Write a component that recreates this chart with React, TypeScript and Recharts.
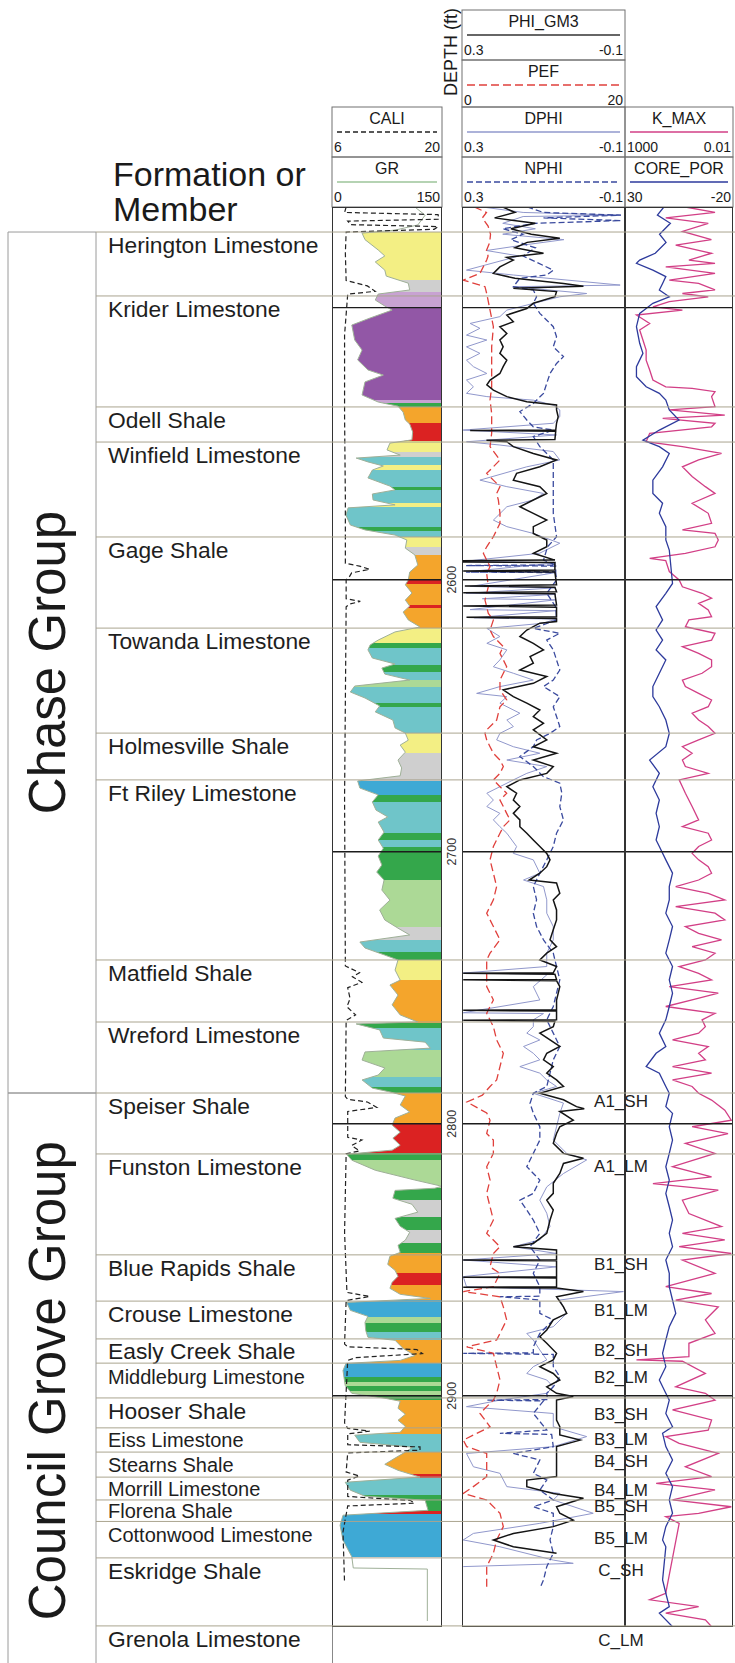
import React from 'react'
import { ComposedChart, Line, Area, XAxis, YAxis, ReferenceLine, ReferenceArea } from 'recharts'

const FONT = '"Liberation Sans", Arial, Helvetica, sans-serif'

const TRACK_TOP = 207
const TRACK_H = 1420
const PAGE_H = 1663
const DEPTH_TOP = 2463
const DEPTH_BOTTOM = 2985
const PX_PER_FT = TRACK_H / (DEPTH_BOTTOM - DEPTH_TOP)
const PAGE_BOTTOM_DEPTH = DEPTH_TOP + (PAGE_H - TRACK_TOP) / PX_PER_FT
const NO_MARGIN = { top: 0, right: 0, bottom: 0, left: 0 }

const DEPTH_GRID = [2500, 2600, 2700, 2800, 2900]
const DEPTH_LABELS = [2600, 2700, 2800, 2900]

const GROUPS = [
  { name: 'Chase Group', top: 2472.2 },
  { name: 'Council Grove Group', top: 2788.7 },
]

const FORMATIONS = [
  { name: 'Herington Limestone', top: 2472.2 },
  { name: 'Krider Limestone', top: 2495.7 },
  { name: 'Odell Shale', top: 2536.5 },
  { name: 'Winfield Limestone', top: 2549.4 },
  { name: 'Gage Shale', top: 2584.3 },
  { name: 'Towanda Limestone', top: 2617.8 },
  { name: 'Holmesville Shale', top: 2656.4 },
  { name: 'Ft Riley Limestone', top: 2673.6 },
  { name: 'Matfield Shale', top: 2739.8 },
  { name: 'Wreford Limestone', top: 2762.6 },
  { name: 'Speiser Shale', top: 2788.7 },
  { name: 'Funston Limestone', top: 2811.1 },
  { name: 'Blue Rapids Shale', top: 2848.2 },
  { name: 'Crouse Limestone', top: 2865.2 },
  { name: 'Easly Creek Shale', top: 2879.1 },
  { name: 'Middleburg Limestone', top: 2888.0 },
  { name: 'Hooser Shale', top: 2900.8 },
  { name: 'Eiss Limestone', top: 2911.8 },
  { name: 'Stearns Shale', top: 2920.7 },
  { name: 'Morrill Limestone', top: 2929.9 },
  { name: 'Florena Shale', top: 2938.3 },
  { name: 'Cottonwood Limestone', top: 2946.2 },
  { name: 'Eskridge Shale', top: 2959.6 },
  { name: 'Grenola Limestone', top: 2984.6 },
]
const SMALL_LABELS = ['Middleburg Limestone', 'Eiss Limestone', 'Stearns Shale', 'Morrill Limestone', 'Florena Shale', 'Cottonwood Limestone']

const MARKERS = [
  { name: 'A1_SH', depth: 2792 },
  { name: 'A1_LM', depth: 2815.9 },
  { name: 'B1_SH', depth: 2851.6 },
  { name: 'B1_LM', depth: 2868.8 },
  { name: 'B2_SH', depth: 2883.2 },
  { name: 'B2_LM', depth: 2893.1 },
  { name: 'B3_SH', depth: 2906.7 },
  { name: 'B3_LM', depth: 2916.2 },
  { name: 'B4_SH', depth: 2924.2 },
  { name: 'B4_LM', depth: 2934.8 },
  { name: 'B5_SH', depth: 2940.7 },
  { name: 'B5_LM', depth: 2952.5 },
  { name: 'C_SH', depth: 2964.4 },
  { name: 'C_LM', depth: 2990 },
]

type Pt = [number, number | null]

// gamma ray, API (0-150)
const GR: Pt[] = [
  [2463, 113], [2466, 127], [2469.6, 117], [2471.5, 86], [2472.6, 41], [2475, 45], [2478.8, 63], [2481, 72], [2483.2, 59],
  [2486.2, 72], [2488.4, 74], [2491, 104], [2493.5, 106], [2495, 63], [2497.2, 59], [2499.4, 72], [2500.9, 82], [2503.8, 52],
  [2506.4, 27], [2511.9, 31], [2515.6, 41], [2519.2, 35], [2522.9, 49], [2524.8, 70], [2527.3, 45], [2532.1, 41], [2534.7, 63],
  [2536.2, 90], [2538.4, 97], [2541.3, 100], [2542.8, 106], [2545.7, 110], [2548.6, 109], [2549.8, 79], [2552.3, 75], [2554.2, 93],
  [2555.3, 33], [2556.7, 49], [2558.2, 70], [2559.7, 55], [2562.6, 49], [2565.6, 79], [2567, 86], [2568.5, 55], [2570.7, 56],
  [2572.5, 86], [2573.6, 22], [2576.2, 19], [2579.9, 25], [2581.7, 45], [2583.6, 86], [2585.4, 102], [2588.4, 100], [2590.9, 113],
  [2594.6, 117], [2597.2, 106], [2600.1, 104], [2601.9, 100], [2604.9, 109], [2607.5, 100], [2609.7, 106], [2611.9, 97], [2614.8, 104],
  [2617.4, 120], [2619.2, 86], [2622.2, 63], [2624, 52], [2625.8, 49], [2628.8, 55], [2631, 86], [2632.5, 68], [2634.7, 72],
  [2636.9, 106], [2639.1, 31], [2641.3, 25], [2643.5, 45], [2646.4, 65], [2648.6, 59], [2651.6, 83], [2654.5, 86], [2656.4, 100],
  [2659, 104], [2660.8, 93], [2663.4, 100], [2666.3, 90], [2669.2, 95], [2672.1, 93], [2674, 35], [2676.6, 38], [2679.1, 63],
  [2681.7, 55], [2684.7, 60], [2687.2, 76], [2689.1, 63], [2692.8, 71], [2695.7, 63], [2698.7, 70], [2701.6, 63], [2704.9, 68],
  [2707.5, 61], [2710.4, 71], [2714.1, 68], [2717.8, 79], [2721.4, 65], [2725.1, 72], [2728.1, 90], [2730.6, 106], [2733.2, 38],
  [2735.4, 45], [2738, 72], [2739.8, 90], [2743.5, 86], [2747.2, 93], [2749, 79], [2752.7, 90], [2756.3, 82], [2760, 93],
  [2762.6, 117], [2763.3, 33], [2765.5, 65], [2768.5, 70], [2770, 127], [2772.2, 134], [2773.6, 45], [2776.6, 41], [2779.5, 72],
  [2782.1, 63], [2783.9, 41], [2786.9, 55], [2788.3, 79], [2789.8, 100], [2793.1, 93], [2795.7, 106], [2797.9, 86], [2800.5, 82],
  [2803.1, 93], [2805.3, 83], [2807.9, 93], [2809.7, 82], [2811.2, 20], [2813.4, 27], [2817.1, 59], [2820.7, 113], [2823, 150],
  [2823.7, 140], [2824.5, 86], [2827.4, 83], [2829.6, 109], [2832.5, 117], [2834.8, 86], [2837.7, 93], [2839.9, 106], [2842.8, 100],
  [2844.7, 90], [2847.3, 93], [2848.7, 79], [2851.7, 76], [2853.9, 86], [2856.1, 90], [2858.3, 82], [2860.5, 79], [2862.7, 93],
  [2864.2, 134], [2865.7, 20], [2868.6, 25], [2870.8, 49], [2873, 45], [2876, 46], [2878.5, 49], [2879.6, 86], [2882.6, 97],
  [2885.2, 113], [2887, 93], [2888.1, 19], [2890.7, 15], [2896.2, 18], [2899.1, 27], [2900.9, 72], [2902, 93], [2904.6, 90],
  [2906.8, 100], [2909, 90], [2911.2, 100], [2913.4, 93], [2914.5, 31], [2917.1, 38], [2918.9, 110], [2920.7, 100], [2922.9, 86],
  [2925.2, 72], [2927.4, 90], [2929.9, 120], [2931.8, 18], [2934.7, 25], [2936.9, 45], [2938.4, 127], [2942.1, 131], [2943.9, 15],
  [2947.6, 11], [2953.1, 15], [2959.2, 27], [2963.3, 29], [2963.7, 130], [2982.8, 130],
]

// lithofacies intervals shading the GR track: [top depth, facies code]
const FACIES: [number, string][] = [
  [2463, '-'], [2472.2, 'Y'], [2489.8, 'GY'], [2494.2, 'LV'], [2500.1, 'PU'], [2533.9, 'LV'], [2535, 'DG'], [2536.5, 'OR'],
  [2542.4, 'RD'], [2549, 'Y'], [2553.1, 'GY'], [2554.9, 'TL'], [2557.8, 'Y'], [2559.7, 'TL'], [2565.9, 'DG'], [2567, 'TL'],
  [2571.8, 'Y'], [2573.3, 'TL'], [2580.6, 'DG'], [2582.1, 'TL'], [2584.3, 'Y'], [2588, 'GY'], [2590.9, 'OR'], [2599.7, 'RD'],
  [2601.6, 'OR'], [2609.3, 'RD'], [2610.4, 'OR'], [2617.8, 'Y'], [2623.3, 'DG'], [2625.1, 'TL'], [2631.4, 'DG'], [2633.9, 'TL'],
  [2636.9, 'LG'], [2639.4, 'TL'], [2645.3, 'DG'], [2646.8, 'TL'], [2656.4, 'Y'], [2663.7, 'GY'], [2674, 'BL'], [2679.1, 'DG'],
  [2681.7, 'TL'], [2693.1, 'DG'], [2695.7, 'TL'], [2698.3, 'DG'], [2710.4, 'LG'], [2727.7, 'GY'], [2732.4, 'TL'], [2736.9, 'DG'],
  [2739.8, 'Y'], [2747.2, 'OR'], [2763, 'DG'], [2764.8, 'TL'], [2772.9, 'LG'], [2782.8, 'TL'], [2786.5, 'DG'], [2788.7, 'OR'],
  [2799.7, 'RD'], [2810.7, 'DG'], [2813.3, 'LG'], [2823.6, 'DG'], [2828, 'GY'], [2834.3, 'DG'], [2839, 'GY'], [2843.8, 'DG'],
  [2847.5, 'OR'], [2854.8, 'RD'], [2859.2, 'OR'], [2864.8, 'BL'], [2871, 'LG'], [2873.2, 'DG'], [2876.5, 'TL'], [2879.6, 'OR'],
  [2888.1, 'BL'], [2893.2, 'DG'], [2895.1, 'LG'], [2896.5, 'DG'], [2898.4, 'LG'], [2899.9, 'DG'], [2901.7, 'OR'], [2914.2, 'TL'],
  [2920.8, 'OR'], [2928.9, 'RD'], [2930.4, 'TL'], [2936.6, 'DG'], [2942.2, 'RD'], [2943.3, 'BL'], [2959.3, '-'],
]
const FACIES_COLORS: Record<string, string> = {
  '-': '#ffffff', Y: '#f3ef84', GY: '#cfcfcf', LV: '#c8a2d2', PU: '#9257a6', OR: '#f4a52c', RD: '#db2222',
  TL: '#6fc5c9', DG: '#34a74b', LG: '#acd996', BL: '#3ea9d5',
}

// caliper, in (6-20)
const CALI: Pt[] = [
  [2463, 7.8], [2465, 7.6], [2465.8, 19.5], [2467.5, 19.6], [2468.2, 8.0], [2469.5, 8.4], [2470.2, 19.5], [2471.2, 19.0],
  [2472.2, 7.8], [2480, 7.7], [2490, 7.8], [2492, 10.5], [2494, 11.5], [2495, 8.0], [2510, 7.6], [2540, 7.6], [2570, 7.7],
  [2594, 7.7], [2595, 9.5], [2596.2, 10.8], [2597.5, 8.5], [2599, 8.2], [2600, 7.8], [2607, 7.8], [2608, 9.6], [2609, 8.2],
  [2610, 7.8], [2680, 7.6], [2742, 7.7], [2744.5, 9.5], [2746, 8.6], [2748, 9.8], [2750, 8.0], [2754, 8.3], [2757, 7.9],
  [2760, 9.0], [2762, 7.8], [2790, 7.7], [2791, 8.0], [2792, 10.5], [2794, 11.7], [2795.5, 8.0], [2805, 8.0], [2806, 9.8],
  [2808, 8.5], [2810, 9.5], [2811, 7.8], [2840, 7.6], [2862, 7.9], [2863.5, 10.8], [2865, 7.8], [2881, 7.6], [2882, 8.0],
  [2883, 16.8], [2884.5, 17.5], [2886, 9.0], [2887, 8.0], [2910, 7.6], [2912, 8.0], [2913, 10.8], [2914, 8.0], [2918, 8.0],
  [2918.8, 17.2], [2920, 17.2], [2921, 8.0], [2928, 7.8], [2929.5, 9.5], [2931, 8.0], [2937, 8.0], [2938.5, 16.0],
  [2939.5, 16.5], [2940.5, 8.0], [2950, 7.4], [2969, 7.6],
]

// porosity track, v/v (0.3 to -0.1)
const PHI_GM3: Pt[] = [
  [2463, 0.2], [2465, 0.17], [2467, 0.22], [2469, 0.12], [2471, 0.18], [2473, 0.13], [2474.5, 0.06], [2476, 0.14], [2478, 0.17],
  [2480, 0.1], [2481.5, 0.19], [2482.5, 0.174], [2485, 0.207], [2487.4, 0.223], [2489.2, 0.17], [2491.1, 0.051], [2492.1, 0.002],
  [2492.9, 0.174], [2494.1, 0.068], [2496, 0.072], [2498.4, 0.125], [2500.3, 0.141], [2502.7, 0.19], [2505.2, 0.174], [2507, 0.207],
  [2509.5, 0.19], [2511.9, 0.207], [2514.4, 0.199], [2516.8, 0.207], [2519.3, 0.19], [2521.7, 0.199], [2524.2, 0.207], [2526.6, 0.231],
  [2528.4, 0.239], [2530.3, 0.223], [2532.7, 0.19], [2534.6, 0.141], [2535.8, 0.068], [2537.6, 0.068], [2540.1, 0.064], [2542.5, 0.068],
  [2545, 0.07], [2545.2, 0.28], [2545.4, 0.07], [2548.5, 0.072], [2548.7, 0.24], [2549.3, 0.19], [2551.1, 0.174], [2553.6, 0.125],
  [2556, 0.068], [2558.5, 0.109], [2560.9, 0.166], [2563.4, 0.174], [2565.8, 0.109], [2568.3, 0.092], [2570.7, 0.125], [2573.2, 0.158],
  [2575.6, 0.125], [2578.1, 0.092], [2580.5, 0.125], [2583, 0.125], [2585.4, 0.092], [2587.9, 0.092], [2590.3, 0.125], [2592.8, 0.072],
  [2593, 0.297], [2593.5, 0.297], [2593.7, 0.072], [2596.4, 0.072], [2596.8, 0.297], [2597.2, 0.072], [2601.9, 0.068], [2602.3, 0.293],
  [2602.8, 0.072], [2604.4, 0.068], [2604.8, 0.297], [2605.2, 0.072], [2609.3, 0.068], [2609.7, 0.297], [2610.1, 0.068], [2613.6, 0.068],
  [2613.8, 0.289], [2614.3, 0.068], [2615.4, 0.068], [2616, 0.109], [2618.5, 0.141], [2620.9, 0.158], [2623.4, 0.125], [2625.8, 0.1],
  [2628.3, 0.133], [2630.7, 0.125], [2633.2, 0.158], [2635.6, 0.092], [2638.1, 0.125], [2640.5, 0.199], [2643, 0.174], [2645.4, 0.141],
  [2647.9, 0.109], [2650.3, 0.125], [2652.8, 0.1], [2655.2, 0.125], [2658.9, 0.092], [2661.4, 0.125], [2663.8, 0.068], [2666.3, 0.125],
  [2668.7, 0.076], [2671.2, 0.092], [2673.6, 0.158], [2676.1, 0.19], [2678.5, 0.166], [2681, 0.174], [2683.4, 0.158], [2685.9, 0.174],
  [2688.3, 0.158], [2690.8, 0.158], [2693.2, 0.141], [2695.7, 0.125], [2698.1, 0.109], [2700.6, 0.092], [2703, 0.084], [2705.5, 0.092],
  [2707.9, 0.109], [2710.4, 0.135], [2711.5, 0.068], [2715.3, 0.06], [2717.7, 0.076], [2721.4, 0.068], [2725.1, 0.068], [2728.7, 0.076],
  [2732.4, 0.084], [2734.9, 0.068], [2737.3, 0.092], [2739.8, 0.109], [2742.2, 0.068], [2744.5, 0.076], [2744.7, 0.297], [2745, 0.072],
  [2747, 0.068], [2747.1, 0.297], [2747.4, 0.068], [2749.6, 0.06], [2754.5, 0.068], [2758.1, 0.068], [2758.3, 0.297], [2758.6, 0.068],
  [2761.8, 0.068], [2762, 0.297], [2762.3, 0.072], [2764.3, 0.076], [2766.7, 0.109], [2769.2, 0.084], [2771.6, 0.06], [2774.1, 0.092],
  [2776.5, 0.1], [2779, 0.076], [2781.4, 0.092], [2783.9, 0.068], [2786.3, 0.051], [2788.8, 0.109], [2791.2, 0.051], [2793.7, 0.019],
  [2794.5, 0.0], [2795.5, 0.06], [2798.7, 0.027], [2801.1, 0.06], [2803.6, 0.068], [2807.2, 0.076], [2810.9, 0.051], [2812.7, 0.002],
  [2814.6, 0.051], [2818.3, 0.06], [2821.9, 0.076], [2825.6, 0.076], [2828.1, 0.092], [2831.7, 0.076], [2835.4, 0.084], [2840.3, 0.092],
  [2844, 0.125], [2845.2, 0.174], [2846.4, 0.068], [2850, 0.068], [2850.1, 0.297], [2850.4, 0.068], [2856.2, 0.068], [2856.4, 0.297],
  [2856.7, 0.068], [2859.9, 0.068], [2860.1, 0.297], [2860.4, 0.068], [2861.7, 0.002], [2863.6, 0.068], [2867.3, 0.051], [2869.7, 0.043],
  [2872.1, 0.076], [2875.8, 0.092], [2878.3, 0.109], [2880.7, 0.092], [2884.4, 0.068], [2886.8, 0.076], [2889.3, 0.109], [2891.8, 0.076],
  [2894.2, 0.06], [2896.7, 0.092], [2899.1, 0.068], [2900.3, 0.027], [2901.6, 0.068], [2904, 0.068], [2908.9, 0.068], [2911.4, 0.06],
  [2914.4, 0.06], [2916.3, 0.01], [2918.7, 0.068], [2923.6, 0.068], [2929.7, 0.068], [2931, 0.141], [2933.4, 0.141], [2935.9, 0.076],
  [2937.7, 0.002], [2940.8, 0.068], [2943.2, 0.06], [2945.7, 0.027], [2948.1, 0.076], [2950.6, 0.174], [2953, 0.223], [2955.5, 0.174],
  [2957.9, 0.068],
]

const DPHI: Pt[] = [
  [2463, 0.25], [2465, 0.15], [2466, -0.09], [2466.5, 0.15], [2469, 0.2], [2471, 0.12], [2473, 0.2], [2475, 0.05], [2477, 0.15],
  [2479, 0.24], [2481, 0.16], [2486.2, 0.289], [2488, 0.174], [2491.7, -0.088], [2492.3, 0.174], [2494.8, -0.006], [2496, 0.06],
  [2500.9, 0.19], [2503.3, 0.207], [2505.8, 0.28], [2507.6, 0.256], [2510.1, 0.289], [2511.9, 0.239], [2514.4, 0.289], [2516.8, 0.256],
  [2519.3, 0.289], [2521.7, 0.272], [2524.2, 0.239], [2526.6, 0.289], [2529.1, 0.272], [2531.5, 0.289], [2532.7, 0.239], [2534, 0.125],
  [2535.8, 0.076], [2537.6, 0.06], [2540.1, 0.06], [2542.5, 0.076], [2545, 0.297], [2546.8, 0.068], [2549.3, 0.289], [2550.5, 0.207],
  [2552.9, 0.076], [2556, 0.06], [2558.5, 0.141], [2563.4, 0.256], [2565.8, 0.19], [2568.3, 0.1], [2570.7, 0.125], [2573.2, 0.19],
  [2578.1, 0.223], [2580.5, 0.19], [2583, 0.125], [2586.6, 0.06], [2590.3, 0.11], [2593.2, 0.29], [2593.8, 0.07], [2597, 0.28],
  [2597.4, 0.07], [2602.5, 0.28], [2603, 0.07], [2605, 0.29], [2605.4, 0.07], [2607, 0.25], [2607.4, 0.07], [2611, 0.28], [2611.4, 0.07],
  [2614, 0.27], [2614.5, 0.07], [2616, 0.1], [2617.9, 0.239], [2620.9, 0.207], [2623.4, 0.239], [2625.8, 0.19], [2629.5, 0.207],
  [2632, 0.223], [2634.4, 0.174], [2636.9, 0.125], [2639.3, 0.207], [2641.8, 0.264], [2643, 0.19], [2645.4, 0.207], [2649.1, 0.158],
  [2651.6, 0.19], [2654, 0.174], [2656.5, 0.207], [2658.9, 0.215], [2661.4, 0.174], [2663.8, 0.109], [2666.3, 0.19], [2668.7, 0.092],
  [2671.2, 0.141], [2673.6, 0.174], [2676.1, 0.207], [2678.5, 0.239], [2681, 0.223], [2683.4, 0.239], [2685.9, 0.207], [2688.3, 0.223],
  [2690.8, 0.207], [2693.2, 0.19], [2698.1, 0.166], [2700.6, 0.174], [2703, 0.125], [2707.9, 0.109], [2710.4, 0.149], [2712.8, 0.1],
  [2717.7, 0.092], [2722.6, 0.092], [2727.5, 0.076], [2732.4, 0.076], [2737.3, 0.092], [2742.2, 0.092], [2744.6, 0.297], [2745, 0.09],
  [2749.6, 0.125], [2754.5, 0.109], [2759.2, 0.297], [2759.5, 0.1], [2761.8, 0.125], [2764.3, 0.125], [2766.7, 0.141], [2769.2, 0.109],
  [2771.6, 0.149], [2774.1, 0.125], [2776.5, 0.109], [2779, 0.158], [2781.4, 0.109], [2783.9, 0.092], [2786.3, 0.068], [2788.8, 0.125],
  [2792.4, 0.051], [2796.2, 0.06], [2801.1, 0.068], [2806, 0.076], [2810.9, 0.043], [2813.3, -0.006], [2818.3, 0.051], [2823.2, 0.092],
  [2828.1, 0.109], [2832.9, 0.092], [2837.8, 0.084], [2842.7, 0.109], [2845.2, 0.174], [2847.7, 0.068], [2850.1, 0.297], [2852.6, 0.068],
  [2856.2, 0.297], [2859.9, 0.289], [2861.7, -0.096], [2864.8, 0.06], [2869.7, 0.043], [2874.6, 0.076], [2877.1, 0.141], [2879.5, 0.125],
  [2883.2, 0.109], [2886.8, 0.092], [2889.3, 0.125], [2891.8, 0.141], [2894.2, 0.092], [2896.7, 0.076], [2899.1, 0.092], [2901.6, 0.207],
  [2904, 0.289], [2906.5, 0.076], [2911.4, 0.076], [2915, -0.006], [2918.7, 0.076], [2921.2, 0.289], [2926.1, 0.272], [2928.5, 0.207],
  [2933.4, 0.19], [2935.9, 0.06], [2938.3, 0.076], [2943.2, -0.022], [2946.9, 0.109], [2950.6, 0.272], [2953, 0.297], [2955.5, 0.207],
  [2960.4, 0.076], [2961.6, 0.027], [2962.8, 0.297],
]

const NPHI: Pt[] = [
  [2463, 0.14], [2465, 0.1], [2466, -0.09], [2467, 0.1], [2468, -0.09], [2469, 0.12], [2471, 0.2], [2473, 0.15], [2475, 0.18],
  [2478, 0.12], [2481, 0.15], [2486.2, 0.076], [2488, 0.092], [2489.2, 0.158], [2492.3, 0.174], [2493.5, 0.125], [2496, 0.117],
  [2498.4, 0.125], [2502.1, 0.109], [2504.6, 0.092], [2507, 0.076], [2510.7, 0.068], [2514.4, 0.076], [2518, 0.051], [2520.5, 0.068],
  [2524.2, 0.084], [2527.8, 0.092], [2531.5, 0.1], [2535.2, 0.125], [2538.2, 0.158], [2541.3, 0.141], [2543.8, 0.125], [2545, 0.076],
  [2547.4, 0.125], [2551.1, 0.109], [2553.6, 0.092], [2556, 0.076], [2560.9, 0.076], [2568.3, 0.076], [2575.6, 0.076], [2584.2, 0.068],
  [2587.9, 0.09], [2592.8, 0.1], [2594.6, 0.07], [2594.8, 0.29], [2595, 0.07], [2597, 0.07], [2597.2, 0.29], [2597.4, 0.07],
  [2600.1, 0.068], [2605, 0.092], [2610, 0.07], [2614.8, 0.068], [2617.9, 0.125], [2619.7, 0.06], [2622.2, 0.092], [2625.8, 0.076],
  [2629.5, 0.068], [2633.2, 0.06], [2636.9, 0.076], [2639.3, 0.1], [2643, 0.06], [2646.7, 0.076], [2650.3, 0.068], [2654, 0.06],
  [2656.5, 0.084], [2658.9, 0.117], [2661.4, 0.125], [2665, 0.158], [2668.7, 0.125], [2672.4, 0.1], [2674.8, 0.06], [2678.5, 0.055],
  [2683.4, 0.06], [2688.3, 0.051], [2693.2, 0.068], [2698.1, 0.076], [2703, 0.092], [2707.9, 0.109], [2712.8, 0.125], [2717.7, 0.117],
  [2722.6, 0.125], [2727.5, 0.117], [2732.4, 0.1], [2737.3, 0.076], [2742.2, 0.068], [2747.1, 0.06], [2752, 0.068], [2756.9, 0.076],
  [2761.8, 0.092], [2766.7, 0.076], [2771.6, 0.06], [2776.5, 0.076], [2781.4, 0.084], [2786.3, 0.092], [2788.8, 0.125], [2792.5, 0.133],
  [2796.1, 0.125], [2801.1, 0.109], [2806, 0.109], [2810.9, 0.125], [2815.8, 0.141], [2820.7, 0.109], [2825.6, 0.125], [2828.1, 0.158],
  [2831.7, 0.141], [2835.4, 0.125], [2840.3, 0.109], [2845.2, 0.133], [2850.1, 0.109], [2855, 0.125], [2859.9, 0.109], [2863.4, 0.109],
  [2863.6, 0.207], [2864.8, 0.109], [2869.7, 0.109], [2872.1, 0.076], [2877.1, 0.109], [2882, 0.125], [2884.2, 0.125], [2884.4, 0.297],
  [2884.8, 0.076], [2889.3, 0.076], [2893, 0.06], [2896.7, 0.076], [2899.1, 0.092], [2901.4, 0.09], [2901.6, 0.239], [2901.9, 0.1],
  [2906.5, 0.125], [2912.6, 0.092], [2913.8, 0.207], [2914.2, 0.08], [2918.7, 0.076], [2921.2, 0.174], [2923.6, 0.109], [2928.5, 0.125],
  [2931, 0.092], [2934.6, 0.109], [2938.3, 0.076], [2940.8, 0.125], [2943.2, 0.076], [2948.1, 0.076], [2953, 0.084], [2957.9, 0.076],
  [2962.8, 0.092], [2967.7, 0.1], [2970.8, 0.109],
]

// photoelectric factor, b/e (0-20)
const PEF: Pt[] = [
  [2463, 1.5], [2465, 3.0], [2467, 2.5], [2470, 3.2], [2473, 3.5], [2476, 3.4], [2479, 3.0], [2481, 3.2], [2482.5, 3.03], [2487.4, 2.21],
  [2489.9, 0.16], [2492.3, 2.82], [2494.8, 3.03], [2500.9, 3.44], [2507, 3.85], [2514.4, 3.64], [2521.7, 3.64], [2529.1, 3.64], [2534, 3.44],
  [2538.9, 3.64], [2546.2, 3.64], [2551.1, 3.44], [2556, 4.66], [2558.5, 3.85], [2560.9, 3.03], [2563.4, 3.85], [2565.8, 4.66], [2568.3, 4.25],
  [2570.7, 4.46], [2575.6, 4.66], [2579.3, 4.66], [2584.2, 3.85], [2587.9, 3.03], [2590.3, 2.62], [2592.8, 3.03], [2595.2, 3.44],
  [2597.7, 3.03], [2602.6, 3.23], [2607.5, 2.82], [2612.4, 3.23], [2614.8, 3.85], [2618.5, 3.44], [2620.9, 3.85], [2624.6, 5.07],
  [2627.1, 4.66], [2629.5, 5.07], [2632, 5.48], [2634.4, 5.07], [2636.9, 4.66], [2640.5, 4.66], [2644.2, 5.48], [2646.7, 4.66],
  [2651.6, 4.25], [2655.2, 3.03], [2656.5, 2.82], [2658.9, 3.03], [2661.4, 3.44], [2663.8, 3.85], [2666.3, 4.66], [2668.7, 5.07],
  [2671.2, 4.66], [2673.6, 3.85], [2676.1, 4.66], [2678.5, 5.48], [2681, 4.66], [2683.4, 5.07], [2685.9, 5.48], [2688.3, 5.89],
  [2690.8, 5.07], [2693.2, 4.66], [2698.1, 3.85], [2703, 3.44], [2707.9, 3.85], [2712.8, 4.25], [2717.7, 3.85], [2722.6, 3.03],
  [2727.5, 3.85], [2732.4, 4.66], [2737.3, 3.44], [2739.8, 3.03], [2744.7, 3.03], [2749.6, 3.03], [2754.5, 3.85], [2756.9, 3.44],
  [2759.4, 3.03], [2764.3, 3.85], [2769.2, 4.25], [2774.1, 5.07], [2779, 4.66], [2783.9, 4.25], [2786.3, 3.44], [2789.5, 2.5],
  [2792, 0.6], [2794, 1.8], [2796, 3.03], [2798.7, 3.44], [2803.6, 3.03], [2806, 3.85], [2810.9, 3.85], [2815.8, 3.03], [2820.7, 3.44],
  [2825.6, 3.03], [2830.5, 3.44], [2835.4, 3.85], [2840.3, 3.03], [2845.2, 4.66], [2847.7, 3.85], [2852.6, 3.44], [2855, 4.66],
  [2859.9, 3.85], [2861.7, 0.16], [2863.6, 4.66], [2867.3, 5.07], [2872.1, 5.48], [2877.1, 4.66], [2879.5, 4.25], [2882, 0.57],
  [2884.4, 3.85], [2889.3, 4.25], [2894.2, 4.66], [2899.1, 4.25], [2901.6, 3.85], [2904, 3.03], [2906.5, 2.21], [2911.4, 3.44],
  [2916.3, 0.16], [2918.7, 0.57], [2921.2, 3.03], [2926.1, 3.03], [2929.7, 3.03], [2933.4, 1.39], [2935.9, 0.16], [2938.3, 3.03],
  [2943.2, 4.66], [2948.1, 5.07], [2953, 4.25], [2957.9, 3.85], [2962.8, 3.03], [2967.7, 3.03], [2971.4, 3.03],
]

// core permeability, md (1000 to 0.01, log)
const K_MAX: Pt[] = [
  [2463, 1.6], [2465, 0.068], [2467, 13], [2469, 0.14], [2472, 2.2], [2475, 0.1], [2477, 4.5], [2480, 0.098], [2482.5, 1.1],
  [2483.7, 0.068], [2485, 13], [2487.4, 0.068], [2489.9, 8.9], [2491.1, 0.39], [2493.5, 0.068], [2494.8, 2.2], [2496, 0.14], [2497.8, 8.9],
  [2499.7, 51], [2500.9, 2.2], [2502.7, 295], [2505.8, 72], [2508.2, 209], [2511.9, 148], [2515.6, 105], [2519.3, 105], [2522.9, 72],
  [2526.6, 51], [2529.1, 13], [2529.7, 0.78], [2530.9, 0.068], [2532.7, 0.098], [2536.4, 0.068], [2537.6, 8.9], [2539.5, 0.024],
  [2540.7, 18], [2542.5, 0.068], [2543.8, 0.098], [2546.2, 72], [2549.3, 105], [2551.1, 2.2], [2553.6, 0.034], [2556, 0.39], [2558.5, 2.2],
  [2562.1, 0.78], [2565.8, 0.19], [2568.3, 0.068], [2571.9, 0.78], [2575.6, 0.14], [2579.3, 0.098], [2581.7, 2.2], [2583, 0.068],
  [2585.4, 0.048], [2587.9, 0.068], [2590.3, 1.6], [2592.2, 72], [2593, 13], [2597, 8.9], [2600.1, 3.1], [2602.6, 2.2], [2605, 0.27],
  [2606.8, 0.098], [2608.7, 0.39], [2611.1, 0.14], [2613.6, 0.098], [2614.8, 1.1], [2617.3, 1.6], [2619.7, 0.068], [2622.2, 0.098],
  [2624.6, 2.2], [2627.1, 0.39], [2629.5, 0.098], [2632, 0.098], [2634.4, 0.27], [2636.9, 2.2], [2639.3, 1.6], [2641.8, 0.39],
  [2644.2, 0.098], [2646.7, 0.14], [2649.1, 0.78], [2651.6, 0.39], [2654, 0.14], [2656.5, 0.068], [2658.9, 0.39], [2661.4, 2.2],
  [2663.8, 0.78], [2666.3, 2.2], [2668.7, 1.6], [2671.2, 0.14], [2673.6, 3.1], [2676.1, 2.2], [2678.5, 1.6], [2683.4, 0.78], [2688.3, 0.39],
  [2690.8, 2.2], [2693.2, 0.14], [2695.7, 0.098], [2698.1, 0.39], [2700.6, 0.78], [2703, 0.39], [2705.5, 0.14], [2707.9, 0.098],
  [2710.4, 0.39], [2712.8, 4.5], [2715.3, 0.14], [2717.7, 0.024], [2720.2, 4.5], [2722.6, 0.068], [2725.1, 0.024], [2727.5, 1.6],
  [2730, 0.39], [2732.4, 0.034], [2734.9, 0.78], [2737.3, 0.068], [2739.8, 0.19], [2742.2, 3.1], [2744.7, 0.39], [2747.1, 0.098],
  [2749.6, 8.9], [2752, 0.048], [2754.5, 0.78], [2756.9, 13], [2759.4, 0.068], [2761.8, 0.27], [2764.3, 0.19], [2766.7, 0.39],
  [2769.2, 6.3], [2771.6, 0.14], [2774.1, 0.39], [2776.5, 0.19], [2779, 6.3], [2781.4, 0.098], [2783.9, 6.3], [2786.3, 0.78],
  [2788.8, 0.39], [2791.3, 0.098], [2795, 0.024], [2798.7, 0.012], [2801.1, 0.78], [2803.6, 0.017], [2807.2, 1.6], [2810.9, 0.068],
  [2815.8, 6.3], [2819.5, 0.098], [2822, 51], [2824.4, 0.048], [2828.1, 2.2], [2833, 1.1], [2837.8, 0.034], [2840.3, 2.2], [2842.7, 0.024],
  [2845.2, 3.1], [2847.7, 0.012], [2850.1, 2.2], [2855, 0.068], [2859.9, 13], [2862.4, 0.098], [2864.8, 4.5], [2867.3, 0.048],
  [2872.1, 0.19], [2877.1, 0.068], [2880.7, 1.1], [2885.6, 1.1], [2886.8, 295], [2887.3, 2.2], [2891.8, 0.19], [2896.7, 4.5],
  [2899.1, 0.19], [2901.6, 0.068], [2905.2, 6.3], [2908.9, 0.098], [2912.6, 0.14], [2915, 13], [2917.5, 3.1], [2921.2, 0.048],
  [2926.1, 1.6], [2929.7, 0.098], [2932.2, 36], [2934.6, 0.068], [2938.3, 6.3], [2940.8, 0.012], [2943.2, 0.39], [2944.4, 13],
  [2946.9, 3.1], [2948, null], [2972.6, 13], [2975, 72], [2977.5, 0.39], [2979.9, 13], [2982.4, 0.19], [2984.9, 0.098],
]

// core porosity, % (30 to -20)
const CORE_POR: Pt[] = [
  [2463, 12], [2466, 15], [2469, 9], [2473, 14], [2476, 11], [2480, 16], [2482.5, 23.2], [2483.7, 24.7], [2486.2, 17.1], [2488.6, 11.1],
  [2491.1, 12.6], [2493.5, 14.1], [2496, 9.5], [2498.4, 17.1], [2500.3, 20.2], [2502.1, 23.2], [2507, 24.7], [2513.1, 23.2],
  [2516.8, 21.7], [2521.7, 24.7], [2525.4, 24.7], [2529.1, 20.2], [2531.5, 14.1], [2534, 11.1], [2537.6, 9.5], [2541.3, 5.0],
  [2545, 14.1], [2548.7, 21.7], [2551.1, 14.1], [2553.6, 9.5], [2558.5, 12.6], [2563.4, 17.1], [2568.3, 17.1], [2571.9, 12.6],
  [2575.6, 14.1], [2580.5, 11.1], [2585.4, 11.1], [2589.1, 9.5], [2591, null], [2601.4, 8.0], [2605, 11.1], [2609.9, 15.6],
  [2614.8, 12.6], [2618.5, 15.6], [2622.2, 12.6], [2625.8, 15.6], [2629.5, 11.1], [2634.4, 14.1], [2639.3, 17.1], [2643, 17.1],
  [2646.7, 14.1], [2651.6, 11.1], [2656.5, 9.5], [2661.4, 11.1], [2666.3, 18.6], [2671.2, 14.1], [2676.1, 17.1], [2681, 14.1],
  [2685.9, 15.6], [2690.8, 14.1], [2695.7, 15.6], [2698.1, 14.1], [2703, 11.1], [2707.9, 8.0], [2712.8, 9.5], [2717.7, 9.5],
  [2722.6, 11.1], [2727.5, 8.0], [2732.4, 9.5], [2737.3, 11.1], [2742.2, 8.0], [2747.1, 9.5], [2752, 8.0], [2756.9, 9.5], [2761.8, 11.1],
  [2766.7, 14.1], [2771.6, 11.1], [2774.1, 15.6], [2779, 20.2], [2781.4, 14.1], [2786.3, 11.1], [2788.8, 9.5], [2793.7, 11.1],
  [2796.2, 8.0], [2801.1, 9.5], [2806, 8.0], [2810.9, 9.5], [2815.8, 11.1], [2820.7, 9.5], [2825.6, 11.1], [2830.5, 9.5], [2835.4, 8.0],
  [2840.3, 9.5], [2845.2, 8.0], [2850.1, 11.1], [2855, 9.5], [2859.9, 9.5], [2864.8, 8.0], [2869.7, 6.5], [2874.6, 9.5], [2879.5, 11.1],
  [2884.4, 12.6], [2889.3, 11.1], [2894.2, 14.1], [2899.1, 11.1], [2901.6, 9.5], [2906.5, 11.1], [2911.4, 8.0], [2913.8, 12.6],
  [2918.7, 11.1], [2923.6, 8.0], [2928.5, 11.1], [2933.4, 8.0], [2938.3, 9.5], [2943.2, 8.0], [2948.1, 11.1], [2953, 12.6],
  [2955.5, 11.1], [2956, null], [2967.7, 12.6], [2972.6, 11.1], [2977.5, 9.5], [2979.9, 14.1], [2984.9, 8.0],
]

const toRows = (pts: Pt[]) => pts.map(([depth, v]) => ({ depth, v }))

const depthAxis = (bottom = DEPTH_BOTTOM) => (
  <YAxis type="number" dataKey="depth" domain={[DEPTH_TOP, bottom]} hide allowDataOverflow />
)

const gridLines = () =>
  DEPTH_GRID.map((d) => <ReferenceLine key={d} y={d} stroke="#1c1c1c" strokeWidth={1.4} />)

function FaciesGradient() {
  const first = GR[0][0]
  const last = GR[GR.length - 1][0]
  const off = (d: number) => (d - first) / (last - first)
  return (
    <svg width={0} height={0} style={{ position: 'absolute' }}>
      <defs>
        <linearGradient id="grFacies" x1="0" y1="0" x2="0" y2="1">
          {FACIES.flatMap(([top, code], i) => {
            const bottom = i + 1 < FACIES.length ? FACIES[i + 1][0] : last
            const op = code === '-' ? 0 : 1
            return [
              <stop key={`a${i}`} offset={off(top)} stopColor={FACIES_COLORS[code]} stopOpacity={op} />,
              <stop key={`b${i}`} offset={off(bottom)} stopColor={FACIES_COLORS[code]} stopOpacity={op} />,
            ]
          })}
        </linearGradient>
      </defs>
    </svg>
  )
}

function GrTrack() {
  return (
    <ComposedChart layout="vertical" width={110} height={TRACK_H} data={toRows(GR)} margin={NO_MARGIN}>
      {depthAxis()}
      <XAxis type="number" domain={[0, 150]} hide allowDataOverflow />
      <XAxis xAxisId="cali" type="number" domain={[6, 20]} hide allowDataOverflow />
      <Area type="linear" dataKey="v" baseValue={150} fill="url(#grFacies)" fillOpacity={1} stroke="#9fb098" strokeWidth={1} dot={false} activeDot={false} isAnimationActive={false} />
      <Line xAxisId="cali" data={toRows(CALI)} dataKey="v" type="linear" stroke="#222" strokeWidth={1.2} strokeDasharray="5 3" dot={false} activeDot={false} isAnimationActive={false} />
      {gridLines()}
    </ComposedChart>
  )
}

function PorosityTrack() {
  return (
    <ComposedChart layout="vertical" width={163} height={TRACK_H} margin={NO_MARGIN}>
      {depthAxis()}
      <XAxis type="number" domain={[-0.1, 0.3]} reversed hide allowDataOverflow />
      <XAxis xAxisId="pef" type="number" domain={[0, 20]} hide allowDataOverflow />
      <Line data={toRows(DPHI)} dataKey="v" type="linear" stroke="#9198cc" strokeWidth={1} dot={false} activeDot={false} isAnimationActive={false} />
      <Line data={toRows(NPHI)} dataKey="v" type="linear" stroke="#3a4a9e" strokeWidth={1.3} strokeDasharray="6 3" dot={false} activeDot={false} isAnimationActive={false} />
      <Line xAxisId="pef" data={toRows(PEF)} dataKey="v" type="linear" stroke="#e0403c" strokeWidth={1.3} strokeDasharray="8 4" dot={false} activeDot={false} isAnimationActive={false} />
      <Line data={toRows(PHI_GM3)} dataKey="v" type="linear" stroke="#141414" strokeWidth={1.5} dot={false} activeDot={false} isAnimationActive={false} />
      {gridLines()}
    </ComposedChart>
  )
}

function CoreTrack() {
  return (
    <ComposedChart layout="vertical" width={108} height={TRACK_H} margin={NO_MARGIN}>
      {depthAxis()}
      <XAxis type="number" scale="log" domain={[0.01, 1000]} reversed hide allowDataOverflow />
      <XAxis xAxisId="por" type="number" domain={[-20, 30]} reversed hide allowDataOverflow />
      <Line data={toRows(K_MAX)} dataKey="v" type="linear" stroke="#d23f86" strokeWidth={1.3} dot={false} activeDot={false} isAnimationActive={false} />
      <Line xAxisId="por" data={toRows(CORE_POR)} dataKey="v" type="linear" stroke="#2d3a9c" strokeWidth={1.3} dot={false} activeDot={false} isAnimationActive={false} />
      {gridLines()}
    </ComposedChart>
  )
}

function DepthTrack() {
  return (
    <ComposedChart layout="vertical" width={20} height={TRACK_H} margin={NO_MARGIN}>
      {depthAxis()}
      <XAxis type="number" domain={[0, 1]} hide allowDataOverflow />
      {DEPTH_LABELS.map((d) => (
        <ReferenceLine
          key={d}
          y={d}
          stroke="none"
          label={(p: any) => (
            <text transform={`translate(${p.viewBox.x + 10},${p.viewBox.y}) rotate(-90)`} textAnchor="middle" dominantBaseline="central" fontSize={12.5} fontFamily={FONT} fill="#333">
              {d}
            </text>
          )}
        />
      ))}
    </ComposedChart>
  )
}

function GroupColumn() {
  return (
    <ComposedChart layout="vertical" width={90} height={PAGE_H - TRACK_TOP} margin={{ top: 0, right: 1, bottom: 0, left: 1 }}>
      {depthAxis(PAGE_BOTTOM_DEPTH)}
      <XAxis type="number" domain={[0, 1]} hide allowDataOverflow />
      {GROUPS.map((g, i) => (
        <ReferenceArea
          key={g.name}
          y1={g.top}
          y2={i + 1 < GROUPS.length ? GROUPS[i + 1].top : PAGE_BOTTOM_DEPTH + 2}
          fill="none"
          stroke="#9a9a9a"
          strokeWidth={1}
          ifOverflow="visible"
          label={(p: any) => (
            <text transform={`translate(${p.viewBox.x + 57},${p.viewBox.y + p.viewBox.height / 2}) rotate(-90)`} textAnchor="middle" fontSize={51} fontFamily={FONT} fill="#1a1a1a">
              {g.name}
            </text>
          )}
        />
      ))}
    </ComposedChart>
  )
}

function FormationColumn() {
  return (
    <ComposedChart layout="vertical" width={639} height={PAGE_H - TRACK_TOP} margin={NO_MARGIN}>
      {depthAxis(PAGE_BOTTOM_DEPTH)}
      <XAxis type="number" domain={[0, 1]} hide allowDataOverflow />
      {FORMATIONS.map((f, i) => {
        const next = i + 1 < FORMATIONS.length ? FORMATIONS[i + 1].top : PAGE_BOTTOM_DEPTH
        const rowPx = (next - f.top) * PX_PER_FT
        const small = SMALL_LABELS.includes(f.name)
        const size = small ? 20 : 22.8
        const dy = Math.min(21, rowPx / 2 + size * 0.36)
        return (
          <ReferenceLine
            key={f.name}
            y={f.top}
            stroke="#aaa48f"
            strokeWidth={1}
            label={(p: any) => (
              <text x={p.viewBox.x + 12} y={p.viewBox.y + dy} fontSize={size} fontFamily={FONT} fill="#1e1e1e">
                {f.name}
              </text>
            )}
          />
        )
      })}
      {MARKERS.map((m) => (
        <ReferenceLine
          key={m.name}
          y={m.depth}
          stroke="none"
          ifOverflow="visible"
          label={(p: any) => (
            <text x={p.viewBox.x + 525} y={p.viewBox.y} textAnchor="middle" dominantBaseline="central" fontSize={17} fontFamily={FONT} fill="#222">
              {m.name}
            </text>
          )}
        />
      ))}
    </ComposedChart>
  )
}

function HeaderCell({ x, y, w, h, name, lo, hi, color, dash }: any) {
  return (
    <g fontFamily={FONT} fill="#1a1a1a">
      <rect x={x} y={y} width={w} height={h} fill="none" stroke="#707070" strokeWidth={1} />
      <text x={x + w / 2} y={y + 17} textAnchor="middle" fontSize={16}>{name}</text>
      <line x1={x + 5} x2={x + w - 5} y1={y + 25} y2={y + 25} stroke={color} strokeWidth={1.4} strokeDasharray={dash} />
      <text x={x + 2} y={y + 45} fontSize={14}>{lo}</text>
      <text x={x + w - 2} y={y + 45} textAnchor="end" fontSize={14}>{hi}</text>
    </g>
  )
}

function Header() {
  return (
    <svg width={735} height={240} style={{ position: 'absolute', left: 0, top: 0 }}>
      <text x={113} y={186} fontSize={34} fontFamily={FONT} fill="#1a1a1a">Formation or</text>
      <text x={113} y={221} fontSize={34} fontFamily={FONT} fill="#1a1a1a">Member</text>
      <text transform="translate(451,52) rotate(-90)" textAnchor="middle" dominantBaseline="central" fontSize={18} fontFamily={FONT} fill="#1a1a1a">
        DEPTH (ft)
      </text>
      <HeaderCell x={462} y={10} w={163} h={50} name="PHI_GM3" lo="0.3" hi="-0.1" color="#333" />
      <HeaderCell x={462} y={60} w={163} h={47} name="PEF" lo="0" hi="20" color="#e0403c" dash="8 4" />
      <HeaderCell x={332} y={107} w={110} h={50} name="CALI" lo="6" hi="20" color="#222" dash="5 3" />
      <HeaderCell x={332} y={157} w={110} h={50} name="GR" lo="0" hi="150" color="#9cc49a" />
      <HeaderCell x={462} y={107} w={163} h={50} name="DPHI" lo="0.3" hi="-0.1" color="#9198cc" />
      <HeaderCell x={462} y={157} w={163} h={50} name="NPHI" lo="0.3" hi="-0.1" color="#3a4a9e" dash="6 3" />
      <HeaderCell x={625} y={107} w={108} h={50} name="K_MAX" lo="1000" hi="0.01" color="#d23f86" />
      <HeaderCell x={625} y={157} w={108} h={50} name="CORE_POR" lo="30" hi="-20" color="#2d3a9c" />
    </svg>
  )
}

const abs = (left: number, top: number, width: number, height: number): React.CSSProperties => ({
  position: 'absolute', left, top, width, height,
})

const border = (left: number, width: number): React.CSSProperties => ({
  ...abs(left, TRACK_TOP, width, TRACK_H), border: '1.3px solid #333', boxSizing: 'border-box', pointerEvents: 'none',
})

export default function App() {
  return (
    <div style={{ position: 'absolute', left: 0, top: 0, width: 735, height: PAGE_H, background: '#fff', overflow: 'hidden', fontFamily: FONT }}>
      <FaciesGradient />
      <Header />
      <div style={abs(7, TRACK_TOP, 90, PAGE_H - TRACK_TOP)}><GroupColumn /></div>
      <div style={abs(332, TRACK_TOP, 110, TRACK_H)}><GrTrack /></div>
      <div style={abs(442, TRACK_TOP, 20, TRACK_H)}><DepthTrack /></div>
      <div style={abs(462, TRACK_TOP, 163, TRACK_H)}><PorosityTrack /></div>
      <div style={abs(625, TRACK_TOP, 108, TRACK_H)}><CoreTrack /></div>
      <div style={border(332, 110)} />
      <div style={border(462, 163)} />
      <div style={border(625, 108)} />
      <div style={{ ...abs(332, TRACK_TOP + TRACK_H, 1, PAGE_H - TRACK_TOP - TRACK_H), background: '#888' }} />
      <div style={abs(96, TRACK_TOP, 639, PAGE_H - TRACK_TOP)}><FormationColumn /></div>
    </div>
  )
}
